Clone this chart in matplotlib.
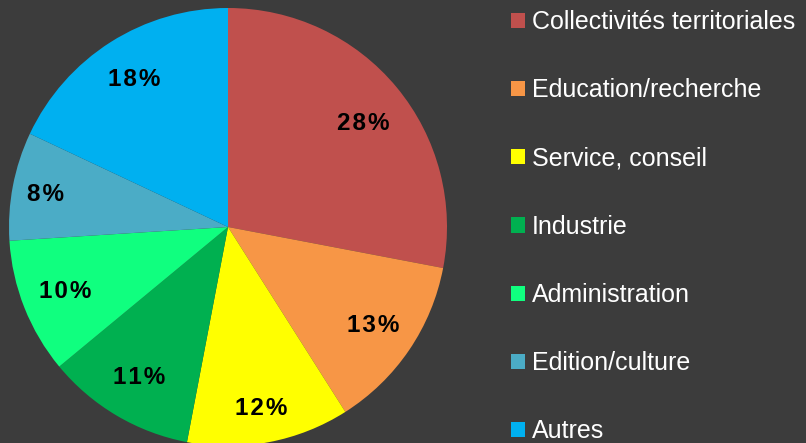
import matplotlib.pyplot as plt

categories = ['Collectivités territoriales', 'Education/recherche', 'Service, conseil',
              'Industrie', 'Administration', 'Edition/culture', 'Autres']
values = [28, 13, 12, 11, 10, 8, 18]
colors = ['#C0504D', '#F79646', '#FFFF00', '#00B050', '#10FF7F', '#4BACC6', '#00B0F0']

bg = '#3c3c3c'
plt.rcParams['font.family'] = ['Liberation Sans', 'DejaVu Sans']

fig = plt.figure(figsize=(8.06, 4.43), dpi=100, facecolor=bg)
W, H = 806, 443
cx, cy, r = 228, 227, 219
ax = fig.add_axes([(cx - r) / W, (H - cy - r) / H, 2 * r / W, 2 * r / H])
ax.set_facecolor(bg)


def pct(p):
    # espacement des lettres comme dans l'original
    return '\u200a'.join(f'{p:.0f}%')


wedges, texts, autotexts = ax.pie(values, colors=colors, startangle=90, counterclock=False,
                                  autopct=pct, pctdistance=0.8,
                                  wedgeprops=dict(linewidth=0))
# petits decalages des etiquettes (en pixels)
nudge = {0: (0, -8), 2: (0, -9), 5: (-10, 0), 6: (0, 0)}
for i, t in enumerate(autotexts):
    t.set_fontsize(17.5)
    t.set_fontweight('bold')
    t.set_color('black')
    if i in nudge:
        x, y = t.get_position()
        dx, dy = nudge[i]
        t.set_position((x + dx / r, y + dy / r))
ax.set_aspect('equal')
ax.set_xlim(-1, 1)
ax.set_ylim(-1, 1)

leg = fig.legend(wedges, categories, loc='upper left', bbox_to_anchor=(511 / W, 1 - 10 / H),
                 frameon=False, fontsize=18, labelcolor='white',
                 handlelength=0.56, handleheight=0.56, handletextpad=0.27,
                 labelspacing=1.77, borderaxespad=0, borderpad=0)

fig.savefig('out.png', dpi=100, facecolor=bg)
